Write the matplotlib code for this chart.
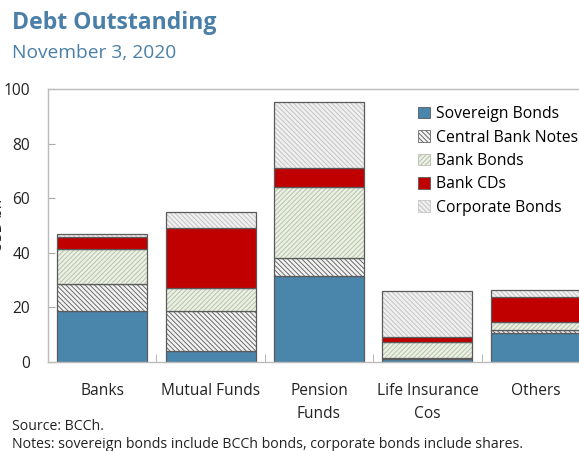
import matplotlib
matplotlib.use("Agg")
import matplotlib.pyplot as plt
import numpy as np
from matplotlib.patches import Patch

plt.rcParams['font.family'] = ['Open Sans', 'DejaVu Sans']
plt.rcParams['hatch.linewidth'] = 0.7

categories = ["Banks", "Mutual Funds", "Pension\nFunds", "Life Insurance\nCos", "Others"]
series_names = ["Sovereign Bonds", "Central Bank Notes", "Bank Bonds", "Bank CDs", "Corporate Bonds"]
sovereign = [18.5, 4.0, 31.4, 0.9, 10.4]
central_bank_notes = [9.9, 14.6, 6.5, 0.3, 1.2]
bank_bonds = [13.0, 8.5, 26.3, 6.1, 3.1]
bank_cds = [4.2, 21.9, 6.7, 1.9, 9.1]
corporate = [1.2, 6.0, 24.2, 16.7, 2.5]
yticks = [0, 20, 40, 60, 80, 100]

W, H = 579, 451
fig = plt.figure(figsize=(W / 100, H / 100), dpi=100)
ax = fig.add_axes([48 / W, 1 - 361.7 / H, (590 - 48) / W, (361.7 - 89) / H])

styles = [
    dict(facecolor="#4A86AC", hatch=None, hatchcolor=None),
    dict(facecolor="#F4F4F4", hatch="\\" * 7, hatchcolor="#6A6A6A"),
    dict(facecolor="#EAF1E1", hatch="/" * 7, hatchcolor="#B9C1B2"),
    dict(facecolor="#C00000", hatch=None, hatchcolor=None),
    dict(facecolor="#F0F0F0", hatch="\\" * 7, hatchcolor="#C4C4C4"),
]

data = [sovereign, central_bank_notes, bank_bonds, bank_cds, corporate]
x = np.arange(len(categories))
bottom = np.zeros(len(categories))
handles = []
for name, vals, st in zip(series_names, data, styles):
    vals = np.array(vals)
    if st["hatch"]:
        ax.bar(x, vals, 0.83, bottom=bottom, facecolor=st["facecolor"],
               edgecolor=st["hatchcolor"], hatch=st["hatch"], linewidth=0)
        ax.bar(x, vals, 0.83, bottom=bottom, facecolor="none",
               edgecolor="#5A5A5A", linewidth=0.9)
        handles.append(Patch(facecolor=st["facecolor"], edgecolor=st["hatchcolor"],
                             hatch=st["hatch"], linewidth=0.6, label=name))
    else:
        ax.bar(x, vals, 0.83, bottom=bottom, color=st["facecolor"],
               edgecolor="#5A5A5A", linewidth=0.9)
        handles.append(Patch(facecolor=st["facecolor"], edgecolor="#5A5A5A",
                             linewidth=0.6, label=name))
    bottom += vals

ax.set_xlim(-0.5, len(categories) - 0.5)
ax.set_ylim(0, 100)
ax.set_yticks(yticks)
ax.set_xticks(x)
ax.set_xticklabels(categories, fontsize=11.2, color="#222222", linespacing=1.6)
ax.set_xticks(np.arange(len(categories) + 1) - 0.5, minor=True)
ax.tick_params(axis="x", which="major", length=0, pad=15)
ax.tick_params(axis="x", which="minor", direction="in", length=6, color="#AAAAAA")
ax.tick_params(axis="y", direction="in", length=5, color="#AAAAAA", labelsize=11.2,
               labelcolor="#222222", pad=13)
for s in ["left", "top", "right", "bottom"]:
    ax.spines[s].set_color("#BBBBBB")
    ax.spines[s].set_linewidth(1.0)

ax.legend(handles=handles, loc="upper left",
          bbox_to_anchor=((412 - 48) / (590 - 48), 0.96),
          frameon=False, fontsize=11.3, handlelength=0.75, handleheight=0.75,
          handletextpad=0.4, labelspacing=0.47, borderaxespad=0)

fig.text(12 / W, 1 - 23 / H, "Debt Outstanding", fontsize=16.6, fontweight="bold",
         color="#4A7FA8", va="center", ha="left")
fig.text(12 / W, 1 - 53 / H, "November 3, 2020", fontsize=13.8, color="#4A7FA8",
         va="center", ha="left")
fig.text(-1 / W, 1 - 225 / H, "USD bn", fontsize=11, rotation=90, color="#222222",
         va="center", ha="center")
fig.text(12 / W, 1 - 426 / H, "Source: BCCh.", fontsize=10.2, color="#222222",
         va="center", ha="left")
fig.text(12 / W, 1 - 444 / H,
         "Notes: sovereign bonds include BCCh bonds, corporate bonds include shares.",
         fontsize=10.2, color="#222222", va="center", ha="left")

fig.savefig("out.png", dpi=100)
